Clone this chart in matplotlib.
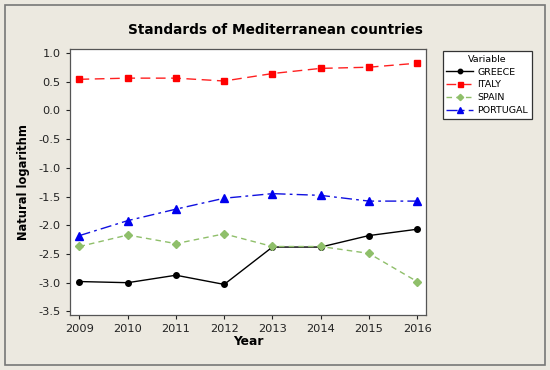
import matplotlib
matplotlib.use("Agg")
import matplotlib.pyplot as plt
from matplotlib.patches import Rectangle

years = [2009, 2010, 2011, 2012, 2013, 2014, 2015, 2016]
greece = [-2.98, -3.00, -2.87, -3.03, -2.38, -2.38, -2.18, -2.07]
italy = [0.54, 0.56, 0.56, 0.51, 0.64, 0.73, 0.75, 0.82]
spain = [-2.37, -2.17, -2.32, -2.15, -2.37, -2.37, -2.49, -2.98]
portugal = [-2.18, -1.92, -1.72, -1.53, -1.45, -1.48, -1.58, -1.58]
yticks = [1.0, 0.5, 0.0, -0.5, -1.0, -1.5, -2.0, -2.5, -3.0, -3.5]

bg = '#ece9e0'
fig = plt.figure(figsize=(5.5, 3.7), dpi=100, facecolor=bg)
# outer frame
fig.patches.append(Rectangle((0.009, 0.014), 0.982, 0.972, transform=fig.transFigure,
                             fill=False, edgecolor='#777777', lw=1.2))

ax = fig.add_axes([0.127, 0.149, 0.648, 0.719])
ax.set_facecolor('white')

ax.plot(years, greece, color='black', ls='-', lw=1, marker='o', ms=4, label='GREECE')
ax.plot(years, italy, color='#ff2020', ls=(0, (7, 4)), lw=1, marker='s', ms=4.5,
        markerfacecolor='red', markeredgecolor='red', label='ITALY')
ax.plot(years, spain, color='#8fbf6a', ls=(0, (4, 3)), lw=1, marker='D', ms=4,
        markerfacecolor='#8fbf6a', markeredgecolor='#8fbf6a', label='SPAIN')
ax.plot(years, portugal, color='#1010e0', ls=(0, (8, 3, 2, 3)), lw=1, marker='^', ms=6,
        markerfacecolor='#0000ee', markeredgecolor='#0000ee', label='PORTUGAL')

ax.set_xlim(2008.8, 2016.19)
ax.set_ylim(-3.56, 1.07)
ax.set_xticks(years)
ax.set_yticks(yticks)
ax.set_yticklabels(['%.1f' % v for v in yticks])
ax.tick_params(labelsize=8.2, length=3, colors='#222222')
for s in ax.spines.values():
    s.set_color('#555555')
    s.set_linewidth(0.9)

ax.set_xlabel('Year', fontsize=8.8, fontweight='bold', labelpad=1)
ax.set_ylabel('Natural logarithm', fontsize=8.3, fontweight='bold', labelpad=6)
fig.text(0.5, 0.918, 'Standards of Mediterranean countries', ha='center', va='center',
         fontsize=9.8, fontweight='bold')

leg = fig.legend(loc='upper left', bbox_to_anchor=(0.796, 0.875), title='Variable',
                 fontsize=6.8, title_fontsize=6.8, frameon=True, fancybox=False,
                 handlelength=2.8, handletextpad=0.5, borderpad=0.4, labelspacing=0.4,
                 markerscale=0.8)
leg.get_frame().set_edgecolor('#333333')
leg.get_frame().set_linewidth(0.9)
leg.get_frame().set_facecolor('white')
leg.get_frame().set_alpha(1)

fig.savefig('out.png', dpi=100, facecolor=bg)
